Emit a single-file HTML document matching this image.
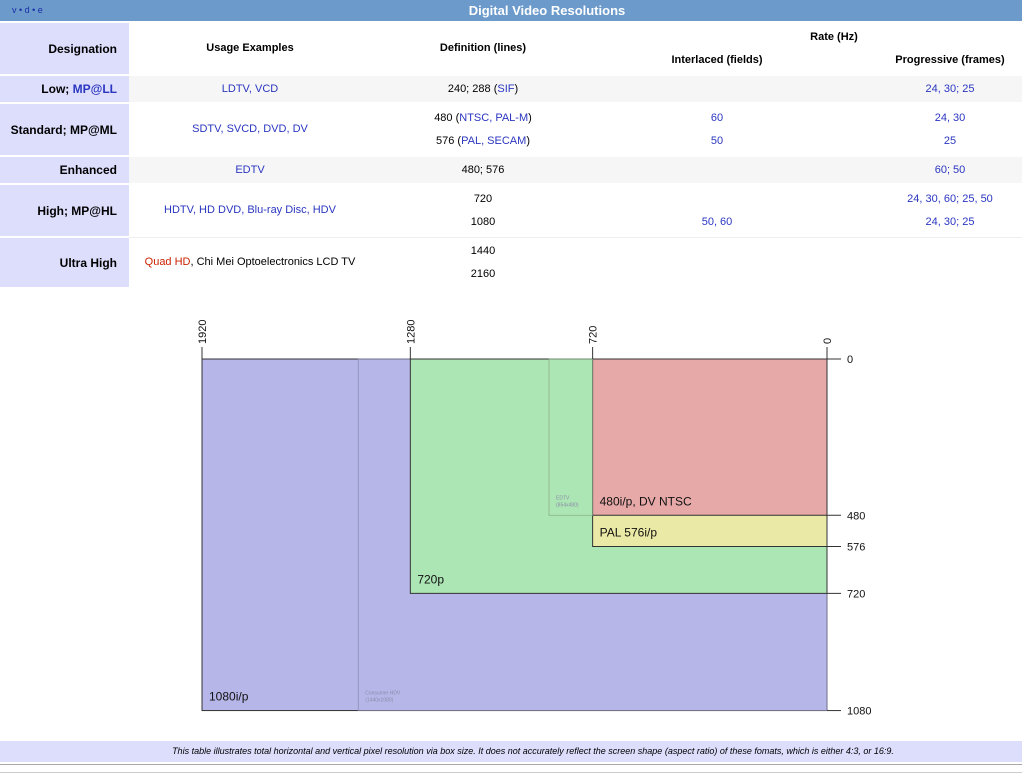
<!DOCTYPE html>
<html><head><meta charset="utf-8"><style>
body{margin:0;width:1022px;height:776px;background:#fff;font-family:"Liberation Sans",sans-serif;position:relative;overflow:hidden}
.a{position:absolute}
.c{position:absolute;font-size:11px;text-align:center;color:#2a36c0}
.h{position:absolute;font-size:11px;font-weight:bold;color:#000;text-align:center}
.d{position:absolute;left:0;width:129px;background:#ddddfc;font-size:12px;font-weight:bold;text-align:right;box-sizing:border-box;padding-right:12px;display:flex;align-items:center;justify-content:flex-end}
.row{position:absolute;left:129px;width:893px}
.k{color:#000}
</style></head><body>
<div class="a" style="left:0;top:0;width:1022px;height:21px;background:#6b9acb"></div>
<div class="a" style="left:12px;top:5px;font-size:9px;color:#1a2fa8">v • d • e</div>
<div class="a" style="left:0;top:3px;width:1094px;text-align:center;font-size:13px;font-weight:bold;color:#fff">Digital Video Resolutions</div>

<div class="d" style="top:23px;height:51px">Designation</div>
<div class="h" style="left:150px;width:200px;top:42px">Usage Examples</div>
<div class="h" style="left:383px;width:200px;top:42px">Definition (lines)</div>
<div class="h" style="left:734px;width:200px;top:31px">Rate (Hz)</div>
<div class="h" style="left:617px;width:200px;top:54px">Interlaced (fields)</div>
<div class="h" style="left:850px;width:200px;top:54px">Progressive (frames)</div>

<div class="row" style="top:76px;height:26px;background:#f6f6f6"></div>
<div class="d" style="top:76px;height:26px">Low;&nbsp;<span style="color:#2a36c0">MP@LL</span></div>
<div class="c" style="left:150px;width:200px;top:83px">LDTV, VCD</div>
<div class="c" style="left:383px;width:200px;top:83px"><span class="k">240; 288 (</span>SIF<span class="k">)</span></div>
<div class="c" style="left:850px;width:200px;top:83px">24, 30; 25</div>

<div class="d" style="top:104px;height:51px">Standard; MP@ML</div>
<div class="c" style="left:150px;width:200px;top:123px">SDTV, SVCD, DVD, DV</div>
<div class="c" style="left:383px;width:200px;top:112px"><span class="k">480 (</span>NTSC, PAL-M<span class="k">)</span></div>
<div class="c" style="left:383px;width:200px;top:135px"><span class="k">576 (</span>PAL, SECAM<span class="k">)</span></div>
<div class="c" style="left:617px;width:200px;top:112px">60</div>
<div class="c" style="left:617px;width:200px;top:135px">50</div>
<div class="c" style="left:850px;width:200px;top:112px">24, 30</div>
<div class="c" style="left:850px;width:200px;top:135px">25</div>

<div class="row" style="top:157px;height:26px;background:#f6f6f6"></div>
<div class="d" style="top:157px;height:26px">Enhanced</div>
<div class="c" style="left:150px;width:200px;top:164px">EDTV</div>
<div class="c k" style="left:383px;width:200px;top:164px">480; 576</div>
<div class="c" style="left:850px;width:200px;top:164px">60; 50</div>

<div class="d" style="top:185px;height:51px">High; MP@HL</div>
<div class="c" style="left:150px;width:200px;top:204px">HDTV, HD DVD, Blu-ray Disc, HDV</div>
<div class="c k" style="left:383px;width:200px;top:193px">720</div>
<div class="c k" style="left:383px;width:200px;top:216px">1080</div>
<div class="c" style="left:617px;width:200px;top:216px">50, 60</div>
<div class="c" style="left:850px;width:200px;top:193px">24, 30, 60; 25, 50</div>
<div class="c" style="left:850px;width:200px;top:216px">24, 30; 25</div>
<div class="row" style="top:237px;height:1px;background:#eee"></div>

<div class="d" style="top:238px;height:49px">Ultra High</div>
<div class="c" style="left:130px;width:240px;top:256px"><span style="color:#cc2200">Quad HD</span><span class="k">, Chi Mei Optoelectronics LCD TV</span></div>
<div class="c k" style="left:383px;width:200px;top:245px">1440</div>
<div class="c k" style="left:383px;width:200px;top:268px">2160</div>

<svg class="a" style="left:0;top:290px" width="1022" height="440" font-family="Liberation Sans, sans-serif" id="ch"></svg>

<div class="a" style="left:0;top:741px;width:1022px;height:21px;background:#ddddfc"></div>
<div class="a" style="left:0;top:746px;width:1066px;text-align:center;font-size:9px;font-style:italic">This table illustrates total horizontal and vertical pixel resolution via box size. It does not accurately reflect the screen shape (aspect ratio) of these fomats, which is either 4:3, or 16:9.</div>
<div class="a" style="left:0;top:764px;width:1022px;height:1px;background:#aaa"></div>
<div class="a" style="left:0;top:772px;width:1022px;height:1px;background:#ccc"></div>

<script>
const boxNames=["1080i/p","720p","PAL 576i/p","480i/p, DV NTSC"];
const boxW=[1920,1280,720,720];
const boxH=[1080,720,576,480];
const boxColors=["#b6b6e9","#ace6b4","#ebe9a6","#e6a9a8"];
const subNames=["Consumer HDV","EDTV"];
const subDims=["(1440x1080)","(854x480)"];
const subW=[1440,854];
const subH=[1080,480];
const xTicks=[1920,1280,720,0];
const yTicks=[0,480,576,720,1080];
const NS="http://www.w3.org/2000/svg";
const svg=document.getElementById('ch');
const X0=827,Y0=69,S=625/1920;
const sx=v=>X0-v*S, sy=v=>Y0+v*S;
function mk(t,a){const e=document.createElementNS(NS,t);for(const k in a)e.setAttribute(k,a[k]);svg.appendChild(e);return e;}
boxW.forEach((w,i)=>{
 const r=mk('rect',{x:sx(w),y:sy(0),width:sx(0)-sx(w),height:sy(boxH[i])-sy(0),fill:boxColors[i],stroke:'#333','stroke-width':1});
 
 
 if(i==0){subW.forEach((sw,j)=>{
   const s=mk('rect',{x:sx(sw),y:sy(0),width:sx(0)-sx(sw),height:sy(subH[j])-sy(0),fill:'none',stroke:'#8888aa','stroke-width':0.7});
   
   
 });}
 const t=mk('text',{x:sx(w)+7,y:sy(boxH[i])-10,'font-size':12,fill:'#111'});
 t.textContent=boxNames[i];
 
 
});
// EDTV sub-box border over green
const e=mk('rect',{x:sx(subW[1]),y:sy(0),width:sx(720)-sx(subW[1]),height:sy(subH[1])-sy(0),fill:'none',stroke:'#88aa88','stroke-width':0.7});


// redraw red on top of edtv border
subW.forEach((sw,j)=>{
 const t1=mk('text',{x:sx(sw)+7,y:sy(subH[j])-16,'font-size':5,fill:'#8c8ca8'});t1.textContent=subNames[j];
 
 
 const t2=mk('text',{x:sx(sw)+7,y:sy(subH[j])-9,'font-size':5,fill:'#8c8ca8'});t2.textContent=subDims[j];
 
 
});
xTicks.forEach(v=>{
 mk('line',{x1:sx(v),x2:sx(v),y1:sy(0)-12,y2:sy(0),stroke:'#333'});
 const t=mk('text',{transform:`translate(${sx(v)+4},${sy(0)-15}) rotate(-90)`,'font-size':11,fill:'#111'});
 t.textContent=v;
 
 
});
yTicks.forEach(v=>{
 mk('line',{x1:sx(0),x2:sx(0)+14,y1:sy(v),y2:sy(v),stroke:'#333'});
 const t=mk('text',{x:sx(0)+20,y:sy(v)+4,'font-size':11,fill:'#111'});
 t.textContent=v;
 
 
});
</script>
</body></html>
